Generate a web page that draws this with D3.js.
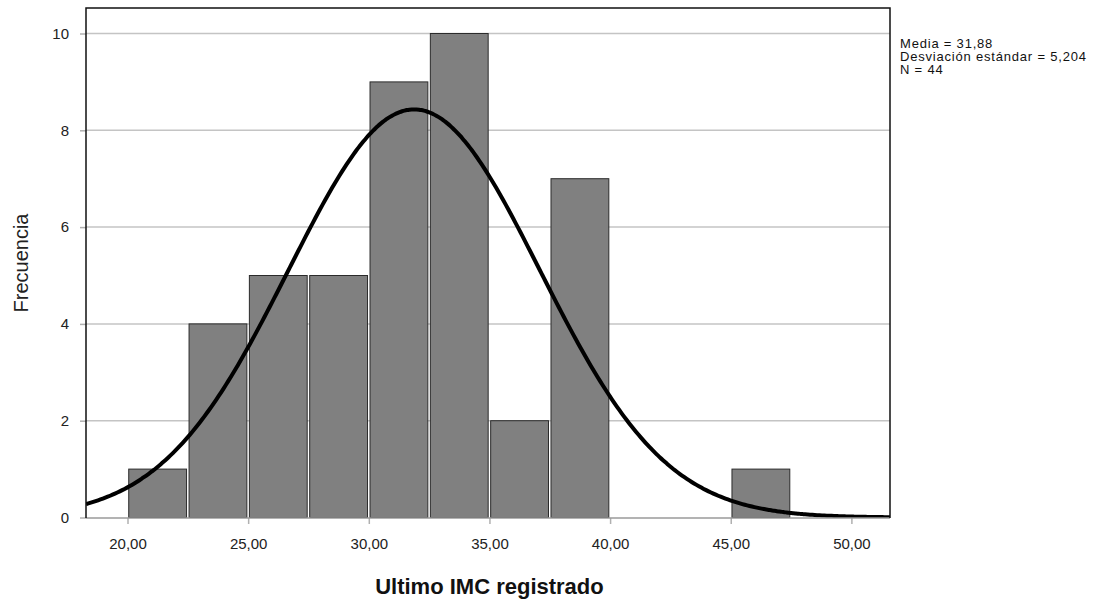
<!DOCTYPE html>
<html>
<head>
<meta charset="utf-8">
<script src="https://cdn.jsdelivr.net/npm/d3@7"></script>
<style>
  body { margin: 0; background: #fff; }
  text { font-family: "Liberation Sans", Arial, sans-serif; }
</style>
</head>
<body>
<script>
// histogram bins (lower edges) and counts
var binStarts = [20.03, 22.53, 25.03, 27.53, 30.03, 32.53, 35.03, 37.53, 40.03, 42.53, 45.03];
var binCounts = [1, 4, 5, 5, 9, 10, 2, 7, 0, 0, 1];
var binWidth = 2.5;
var xTicks = [20, 25, 30, 35, 40, 45, 50];
var yTicks = [0, 2, 4, 6, 8, 10];
var stats = ["Media = 31,88", "Desviación estándar = 5,204", "N = 44"];
var mean = 31.88, sd = 5.204, n = 44;

var width = 1104, height = 604;
var pLeft = 86, pRight = 890, pTop = 8, pBottom = 518;

var svg = d3.select("body").append("svg")
    .attr("width", width)
    .attr("height", height);

var x = d3.scaleLinear().domain([18.28, 51.6]).range([pLeft, pRight]);
var y = d3.scaleLinear().domain([0, 10]).range([517.5, 33.5]);

var fmt = function(d) { return d3.format(".2f")(d).replace(".", ","); };

// gridlines
svg.append("g").selectAll("line")
    .data(yTicks.filter(function(d) { return d > 0; }))
    .enter().append("line")
    .attr("x1", pLeft).attr("x2", pRight)
    .attr("y1", function(d) { return y(d); })
    .attr("y2", function(d) { return y(d); })
    .attr("stroke", "#c4c4c4")
    .attr("stroke-width", 1.5);

// bars
var bins = binStarts.map(function(s, i) { return {x0: s, x1: s + binWidth, count: binCounts[i]}; })
    .filter(function(d) { return d.count > 0; });

svg.append("g").selectAll("rect")
    .data(bins)
    .enter().append("rect")
    .attr("x", function(d) { return x(d.x0) + 0.5; })
    .attr("width", function(d) { return x(d.x1) - x(d.x0) - 2.5; })
    .attr("y", function(d) { return y(d.count); })
    .attr("height", function(d) { return y(0) - y(d.count); })
    .attr("fill", "#808080")
    .attr("stroke", "#2b2b2b")
    .attr("stroke-width", 1);

// normal curve
var curveX = d3.range(18.28, 51.6, 0.1).concat([51.6]);
var scaleF = n * binWidth / (sd * Math.sqrt(2 * Math.PI));
var line = d3.line()
    .x(function(d) { return x(d); })
    .y(function(d) { return y(scaleF * Math.exp(-0.5 * Math.pow((d - mean) / sd, 2))); })
    .curve(d3.curveBasis);

svg.append("defs").append("clipPath").attr("id", "clip")
    .append("rect").attr("x", pLeft).attr("y", pTop).attr("width", pRight - pLeft).attr("height", pBottom - pTop);

svg.append("path")
    .datum(curveX)
    .attr("clip-path", "url(#clip)")
    .attr("d", line)
    .attr("fill", "none")
    .attr("stroke", "#000")
    .attr("stroke-width", 4);

// axes
var yAxis = svg.append("g")
    .attr("transform", "translate(" + pLeft + ",0)")
    .call(d3.axisLeft(y).tickValues(yTicks).tickSize(6).tickPadding(11).tickFormat(d3.format("d")));
yAxis.select(".domain").remove();
yAxis.selectAll("line").attr("stroke", "#b0b0b0").attr("stroke-width", 1.5);
yAxis.selectAll("text").attr("font-size", 15).attr("fill", "#222")
    .attr("font-family", "Liberation Sans, Arial, sans-serif");

var xAxis = svg.append("g")
    .attr("transform", "translate(0," + pBottom + ")")
    .call(d3.axisBottom(x).tickValues(xTicks).tickSize(6).tickPadding(14).tickFormat(fmt));
xAxis.select(".domain").remove();
xAxis.selectAll("line").attr("stroke", "#b0b0b0").attr("stroke-width", 1.5);
xAxis.selectAll("text").attr("font-size", 15).attr("fill", "#222")
    .attr("font-family", "Liberation Sans, Arial, sans-serif");

// frame
svg.append("line").attr("x1", pLeft).attr("x2", pRight).attr("y1", pBottom).attr("y2", pBottom)
    .attr("stroke", "#9a9a9a").attr("stroke-width", 1.5);
svg.append("path")
    .attr("d", "M" + pLeft + "," + pBottom + "V" + pTop + "H" + pRight + "V" + pBottom)
    .attr("fill", "none")
    .attr("stroke", "#111")
    .attr("stroke-width", 1.5);

// titles
svg.append("text")
    .attr("x", x(35))
    .attr("y", 594)
    .attr("text-anchor", "middle")
    .attr("font-size", 22)
    .attr("font-weight", "bold")
    .attr("fill", "#111")
    .text("Ultimo IMC registrado");

svg.append("text")
    .attr("transform", "translate(28,263) rotate(-90)")
    .attr("text-anchor", "middle")
    .attr("font-size", 20)
    .attr("fill", "#222")
    .text("Frecuencia");

// stats box
svg.append("g").selectAll("text")
    .data(stats)
    .enter().append("text")
    .attr("x", 900)
    .attr("y", function(d, i) { return 48 + i * 13; })
    .attr("font-size", 13)
    .attr("letter-spacing", 0.8)
    .attr("fill", "#111")
    .text(function(d) { return d; });
</script>
</body>
</html>
